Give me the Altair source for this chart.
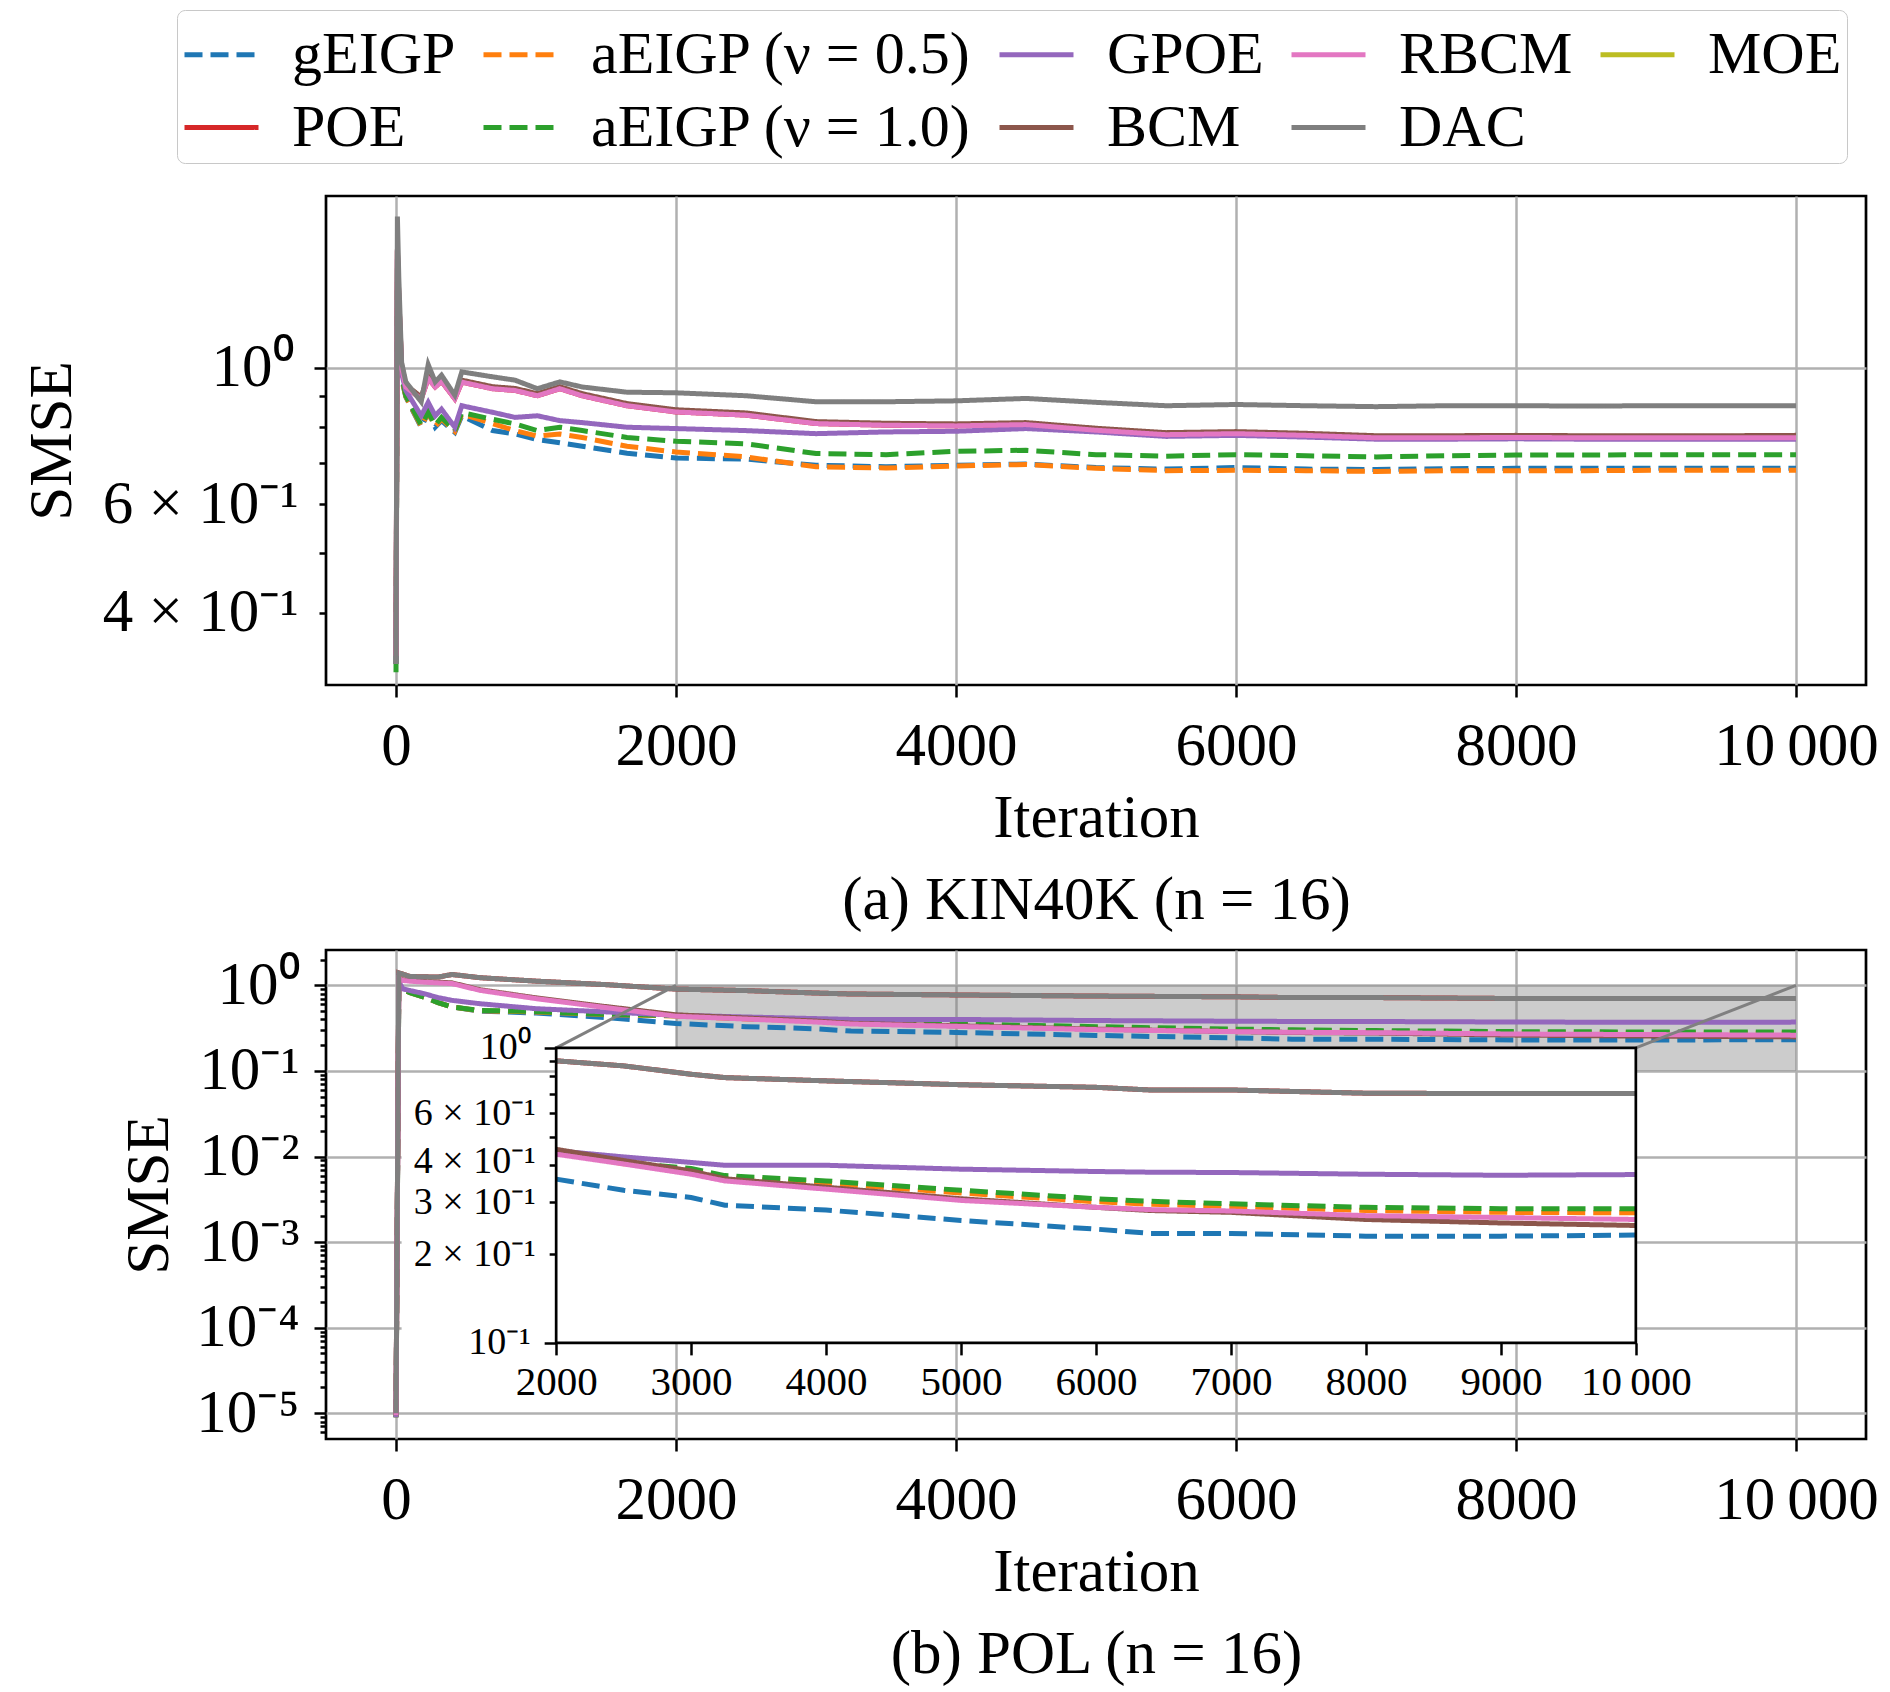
import math
import altair as alt
import pandas as pd

FONT = "Liberation Serif"

# ---------------- series definitions ----------------
# legend entries are laid out column by column (2 rows x 5 columns)
LEGEND_ORDER = ["gEIGP", "POE", "aEIGP (ν = 0.5)", "aEIGP (ν = 1.0)",
                "GPOE", "BCM", "RBCM", "DAC", "MOE"]
PLOT_ORDER = ["gEIGP", "POE", "aEIGP (ν = 0.5)", "aEIGP (ν = 1.0)",
              "GPOE", "BCM", "RBCM", "DAC", "MOE"]
COLORS = ["#1f77b4", "#d62728", "#ff7f0e", "#2ca02c", "#9467bd",
          "#8c564b", "#e377c2", "#7f7f7f", "#bcbd22"]
DASHED = ["gEIGP", "aEIGP (ν = 0.5)", "aEIGP (ν = 1.0)"]

# ---------------- (a) KIN40K ----------------
KIN_X = [0, 10, 20, 40, 70, 180, 230, 280, 325, 420, 470, 690, 850, 1010, 1170,
         1330, 1650, 2000, 2500, 3000, 3500, 4000, 4500, 5000, 5500, 6000, 6500,
         7000, 7500, 8000, 8500, 9000, 9500, 10000]
KIN_DAC = [0.33, 1.76, 1.40, 1.02, 0.948, 0.880, 1.011, 0.948, 0.972, 0.902, 0.984,
           0.966, 0.954, 0.924, 0.948, 0.930, 0.912, 0.910, 0.900, 0.880, 0.880,
           0.883, 0.891, 0.878, 0.867, 0.871, 0.867, 0.864, 0.867, 0.867, 0.866,
           0.867, 0.867, 0.867]
KIN_RBCM = [0.34, 1.55, 1.30, 1.00, 0.930, 0.889, 0.960, 0.930, 0.950, 0.890, 0.947,
            0.924, 0.918, 0.900, 0.924, 0.900, 0.867, 0.847, 0.837, 0.811, 0.806,
            0.804, 0.808, 0.791, 0.778, 0.781, 0.776, 0.769, 0.769, 0.770, 0.769,
            0.769, 0.769, 0.769]
KIN_BCM = [0.34, 1.56, 1.31, 1.01, 0.937, 0.896, 0.968, 0.937, 0.957, 0.897, 0.954,
           0.931, 0.925, 0.907, 0.931, 0.907, 0.874, 0.854, 0.844, 0.817, 0.812,
           0.810, 0.814, 0.797, 0.784, 0.787, 0.782, 0.775, 0.775, 0.776, 0.775,
           0.775, 0.775, 0.776]
KIN_POE = [0.34, 1.55, 1.30, 1.00, 0.930, 0.889, 0.960, 0.930, 0.950, 0.890, 0.947,
           0.924, 0.918, 0.900, 0.924, 0.900, 0.867, 0.847, 0.837, 0.811, 0.806,
           0.804, 0.808, 0.791, 0.778, 0.781, 0.776, 0.769, 0.769, 0.770, 0.769,
           0.769, 0.769, 0.769]
KIN_GPOE = [0.33, 1.50, 1.25, 0.98, 0.918, 0.835, 0.878, 0.835, 0.856, 0.800, 0.867,
            0.846, 0.830, 0.835, 0.820, 0.814, 0.800, 0.796, 0.790, 0.781, 0.786,
            0.788, 0.796, 0.786, 0.773, 0.776, 0.771, 0.765, 0.765, 0.766, 0.765,
            0.765, 0.765, 0.765]
KIN_AEIGP10 = [0.32, 1.45, 1.20, 0.97, 0.900, 0.806, 0.847, 0.806, 0.830, 0.790, 0.845,
               0.824, 0.810, 0.790, 0.800, 0.790, 0.770, 0.759, 0.752, 0.725, 0.722,
               0.731, 0.734, 0.722, 0.718, 0.722, 0.719, 0.716, 0.719, 0.721, 0.721,
               0.722, 0.722, 0.722]
KIN_AEIGP05 = [0.33, 1.40, 1.18, 0.96, 0.898, 0.802, 0.845, 0.802, 0.825, 0.788, 0.840,
               0.811, 0.790, 0.774, 0.780, 0.770, 0.745, 0.729, 0.716, 0.690, 0.687,
               0.692, 0.696, 0.686, 0.680, 0.681, 0.680, 0.678, 0.680, 0.680, 0.680,
               0.681, 0.681, 0.681]
KIN_GEIGP = [0.33, 1.40, 1.18, 0.96, 0.896, 0.800, 0.845, 0.800, 0.820, 0.785, 0.835,
             0.790, 0.780, 0.764, 0.755, 0.745, 0.726, 0.713, 0.710, 0.694, 0.690,
             0.694, 0.697, 0.688, 0.684, 0.688, 0.684, 0.683, 0.685, 0.686, 0.686,
             0.686, 0.686, 0.686]
KIN = {"gEIGP": KIN_GEIGP, "POE": KIN_POE, "aEIGP (ν = 0.5)": KIN_AEIGP05,
       "aEIGP (ν = 1.0)": KIN_AEIGP10, "GPOE": KIN_GPOE, "BCM": KIN_BCM,
       "RBCM": KIN_RBCM, "DAC": KIN_DAC}

# ---------------- (b) POL ----------------
POL_X = [0, 20, 50, 100, 200, 300, 400, 600, 1000, 1500, 2000, 2500, 3000, 3250,
         4000, 5000, 6000, 6400, 7000, 8000, 9000, 10000]
POL_DAC = [1.0e-5, 1.40, 1.35, 1.27, 1.26, 1.25, 1.34, 1.23, 1.12, 1.02, 0.904, 0.869,
           0.814, 0.793, 0.773, 0.750, 0.735, 0.720, 0.720, 0.702, 0.700, 0.700]
POL_POE = [1.0e-5, 1.40, 1.35, 1.27, 1.26, 1.25, 1.34, 1.23, 1.12, 1.02, 0.904, 0.869,
           0.814, 0.793, 0.773, 0.750, 0.735, 0.720, 0.720, 0.702, 0.700, 0.700]
POL_RBCM = [9.5e-6, 1.20, 1.14, 1.12, 1.09, 1.07, 1.05, 0.874, 0.700, 0.550, 0.436,
            0.404, 0.373, 0.354, 0.332, 0.304, 0.288, 0.283, 0.280, 0.270, 0.266, 0.262]
POL_BCM = [9.5e-6, 1.22, 1.16, 1.14, 1.11, 1.09, 1.07, 0.890, 0.715, 0.565, 0.453,
           0.415, 0.383, 0.360, 0.337, 0.308, 0.288, 0.281, 0.277, 0.262, 0.255, 0.250]
POL_GPOE = [9.0e-6, 1.10, 0.91, 0.87, 0.80, 0.72, 0.668, 0.61, 0.534, 0.49, 0.448,
            0.427, 0.409, 0.400, 0.400, 0.388, 0.381, 0.379, 0.378, 0.373, 0.370, 0.372]
POL_AEIGP10 = [9.0e-6, 1.00, 0.90, 0.82, 0.73, 0.63, 0.56, 0.51, 0.495, 0.46, 0.443,
               0.409, 0.390, 0.369, 0.354, 0.329, 0.308, 0.302, 0.296, 0.288, 0.285, 0.285]
POL_AEIGP05 = [9.0e-6, 1.00, 0.90, 0.82, 0.73, 0.63, 0.56, 0.505, 0.49, 0.455, 0.440,
               0.405, 0.385, 0.363, 0.348, 0.322, 0.301, 0.295, 0.290, 0.281, 0.277, 0.276]
POL_GEIGP = [9.0e-6, 1.00, 0.90, 0.82, 0.73, 0.63, 0.56, 0.50, 0.475, 0.42, 0.359,
             0.329, 0.311, 0.293, 0.282, 0.260, 0.243, 0.235, 0.235, 0.230, 0.230, 0.232]
POL = {"gEIGP": POL_GEIGP, "POE": POL_POE, "aEIGP (ν = 0.5)": POL_AEIGP05,
       "aEIGP (ν = 1.0)": POL_AEIGP10, "GPOE": POL_GPOE, "BCM": POL_BCM,
       "RBCM": POL_RBCM, "DAC": POL_DAC}

# ---------------- tick values / labels ----------------
X_TICKS = [0, 2000, 4000, 6000, 8000, 10000]
INSET_X_TICKS = [2000, 3000, 4000, 5000, 6000, 7000, 8000, 9000, 10000]
KIN_Y_TICKS = [0.3, 0.4, 0.5, 0.6, 0.7, 0.8, 0.9, 1.0]
POL_Y_TICKS = [k * 10.0 ** e for e in range(-6, 1) for k in range(1, 10)]
POL_Y_TICKS = [v for v in POL_Y_TICKS if 5.0e-6 <= v <= 2.59]
INSET_Y_TICKS = [0.1, 0.2, 0.3, 0.4, 0.5, 0.6, 0.7, 0.8, 0.9, 1.0]

rows = []
for panel, xs, table in (("a", KIN_X, KIN), ("b", POL_X, POL)):
    for s, vals in table.items():
        for x, v in zip(xs, vals):
            rows.append({"panel": panel, "series": s, "x": x, "y": v})
df = pd.DataFrame(rows)

# ---------------- geometry ----------------
W, H = 1540, 489
X_DOMAIN = [-500, 10500]
KIN_Y_DOMAIN = [0.305, 1.90]
POL_Y_DOMAIN = [5.0e-6, 2.59]
INSET_X_DOMAIN = [2000, 10000]
INSET_Y_DOMAIN = [0.1, 1.0]
INSET_AT_X = [1144, 8856]        # where the inset sits, in panel (b) data coords
INSET_AT_Y = [6.64e-5, 0.186]


def px(v):
    return (v - X_DOMAIN[0]) / (X_DOMAIN[1] - X_DOMAIN[0]) * W


def py(v):
    lo, hi = math.log10(POL_Y_DOMAIN[0]), math.log10(POL_Y_DOMAIN[1])
    return (hi - math.log10(v)) / (hi - lo) * H


INSET_X_RANGE = [px(INSET_AT_X[0]), px(INSET_AT_X[1])]
INSET_Y_RANGE = [py(INSET_AT_Y[0]), py(INSET_AT_Y[1])]

shade_df = pd.DataFrame({"x": [2000], "x2": [10000], "y": [0.1], "y2": [1.0]})
conn_df = pd.DataFrame({"x": [2000, 10000], "y": [1.0, 1.0],
                        "x2": [INSET_AT_X[0], INSET_AT_X[1]],
                        "y2": [INSET_AT_Y[1], INSET_AT_Y[1]]})
labelbox_df = pd.DataFrame({"x": [40], "x2": [INSET_AT_X[0]], "y": [6.1e-5], "y2": [0.072]})
inset_df = pd.DataFrame({"x": [2000], "x2": [10000], "y": [0.1], "y2": [1.0]})

# ---------------- scales / axes ----------------
CSCALE = alt.Scale(domain=LEGEND_ORDER, range=COLORS)
DSCALE = alt.Scale(domain=LEGEND_ORDER,
                   range=[[18, 8] if s in DASHED else [1, 0] for s in LEGEND_ORDER])

LEG = alt.Legend(title=None, orient="none", legendX=-149, legendY=-186, columns=5,
                 symbolType="stroke", symbolSize=5476, symbolStrokeWidth=5,
                 labelFont=FONT, labelFontSize=60, labelColor="black", labelOffset=31,
                 labelLimit=0, columnPadding=17, rowPadding=3, padding=5,
                 strokeColor="#c8c8c8", fillColor="white", cornerRadius=8)

X_LABELS = "datum.value == 10000 ? '10\u2009000' : format(datum.value, 'd')"


def x_axis(caption):
    return alt.Axis(values=X_TICKS, labelExpr=X_LABELS, orient="bottom",
                    title=["Iteration", caption], titleFontSize=61, titleLineHeight=82,
                    titlePadding=12, labelFontSize=61, labelPadding=19, tickSize=12,
                    grid=True, labelFlush=False, labelOverlap=False, labelLimit=0)


KIN_Y_AXIS = alt.Axis(
    values=KIN_Y_TICKS, orient="left", title="SMSE", titleFontSize=61, titlePadding=43,
    labelFontSize=61, labelPadding=21, labelOverlap=False, labelLimit=0,
    labelExpr="datum.value == 1 ? '10⁰' : abs(datum.value - 0.6) < 1e-9 ? '6 × 10⁻¹' : "
              "abs(datum.value - 0.4) < 1e-9 ? '4 × 10⁻¹' : ''",
    tickSize={"condition": {"test": "datum.value == 1", "value": 12}, "value": 7},
    grid=True,
    gridOpacity={"condition": {"test": "datum.value == 1", "value": 1}, "value": 0})

MAJOR = "abs(log(datum.value) / LN10 - round(log(datum.value) / LN10)) < 1e-6"
POL_Y_AXIS = alt.Axis(
    values=POL_Y_TICKS, orient="left", title="SMSE", titleFontSize=61, titlePadding=15,
    labelFontSize=61, labelPadding=15, labelOverlap=False, labelLimit=0,
    labelExpr="(" + MAJOR + ") ? '10' + ['⁰','⁻¹','⁻²','⁻³','⁻⁴','⁻⁵','⁻⁶']"
              "[abs(round(log(datum.value) / LN10))] : ''",
    tickSize={"condition": {"test": MAJOR, "value": 12}, "value": 6},
    grid=True,
    gridOpacity={"condition": {"test": MAJOR, "value": 1}, "value": 0})

INSET_MAJOR = "datum.value == 1 || abs(datum.value - 0.1) < 1e-9"
INSET_Y_AXIS = alt.Axis(
    values=INSET_Y_TICKS, orient="left", title=None, offset=-INSET_X_RANGE[0],
    labelFontSize=38, labelPadding=14, labelOverlap=False, labelLimit=0, grid=False,
    zindex=2,
    labelOffset={"condition": {"test": "abs(datum.value - 0.4) < 1e-9", "value": -4},
                 "value": 0},
    labelExpr="datum.value == 1 ? '10⁰' : abs(datum.value - 0.1) < 1e-9 ? '10⁻¹' : "
              "abs(datum.value - 0.6) < 1e-9 ? '6 × 10⁻¹' : "
              "abs(datum.value - 0.4) < 1e-9 ? '4 × 10⁻¹' : "
              "abs(datum.value - 0.3) < 1e-9 ? '3 × 10⁻¹' : "
              "abs(datum.value - 0.2) < 1e-9 ? '2 × 10⁻¹' : ''",
    tickSize={"condition": {"test": INSET_MAJOR, "value": 12}, "value": 7})
INSET_X_AXIS = alt.Axis(
    values=INSET_X_TICKS, orient="bottom", title=None, offset=-(H - INSET_Y_RANGE[0]),
    labelExpr=X_LABELS, labelFontSize=41, labelPadding=8, tickSize=12, grid=False,
    labelFlush=False, labelOverlap=False, labelLimit=0, zindex=2)

X_A = alt.X("x:Q", scale=alt.Scale(domain=X_DOMAIN, nice=False, zero=False),
            axis=x_axis("(a) KIN40K (n = 16)"))
Y_A = alt.Y("y:Q", scale=alt.Scale(type="log", domain=KIN_Y_DOMAIN, nice=False),
            axis=KIN_Y_AXIS)
X_B = alt.X("x:Q", scale=alt.Scale(domain=X_DOMAIN, nice=False, zero=False),
            axis=x_axis("(b) POL (n = 16)"))
Y_B = alt.Y("y:Q", scale=alt.Scale(type="log", domain=POL_Y_DOMAIN, nice=False),
            axis=POL_Y_AXIS)
X_IN = alt.X("x:Q", scale=alt.Scale(domain=INSET_X_DOMAIN, range=INSET_X_RANGE,
                                    nice=False, zero=False), axis=INSET_X_AXIS)
Y_IN = alt.Y("y:Q", scale=alt.Scale(type="log", domain=INSET_Y_DOMAIN,
                                    range=INSET_Y_RANGE, nice=False), axis=INSET_Y_AXIS)


def line_layers(panel, X, Y, legend, inset=False):
    out = []
    for s in PLOT_ORDER:
        table = KIN if panel == "a" else POL
        if s not in table:
            continue
        c = alt.Chart(df).transform_filter(alt.datum.panel == panel)
        c = c.transform_filter(alt.datum.series == s)
        if inset:
            c = c.transform_filter(alt.datum.x >= INSET_X_DOMAIN[0])
        c = c.mark_line(strokeWidth=5).encode(
            x=X, y=Y,
            color=alt.Color("series:N", scale=CSCALE, legend=legend),
            strokeDash=alt.StrokeDash("series:N", scale=DSCALE, legend=legend))
        out.append(c)
    return out


# ---------------- panel (a) ----------------
panel_a = alt.layer(*line_layers("a", X_A, Y_A, LEG)).properties(width=W, height=H)

# ---------------- panel (b) ----------------
shade = alt.Chart(shade_df).mark_rect(color="gray", opacity=0.4).encode(
    x=X_B, x2="x2:Q", y=Y_B, y2="y2:Q")
connectors = alt.Chart(conn_df).mark_rule(color="#808080", strokeWidth=3).encode(
    x=X_B, x2="x2:Q", y=Y_B, y2="y2:Q")
label_box = alt.Chart(labelbox_df).mark_rect(color="white").encode(
    x=X_B, x2="x2:Q", y=Y_B, y2="y2:Q")
main_b = alt.layer(shade, *line_layers("b", X_B, Y_B, None), connectors, label_box)

inset_bg = alt.Chart(inset_df).mark_rect(color="white").encode(
    x=X_IN, x2="x2:Q", y=Y_IN, y2="y2:Q")
inset_frame = alt.Chart(inset_df).mark_rect(fillOpacity=0, stroke="black",
                                            strokeWidth=2.7).encode(
    x=X_IN, x2="x2:Q", y=Y_IN, y2="y2:Q")
inset = alt.layer(inset_bg, *line_layers("b", X_IN, Y_IN, None, inset=True), inset_frame)

panel_b = alt.layer(main_b, inset).resolve_scale(
    x="independent", y="independent").properties(width=W, height=H)

chart = alt.vconcat(panel_a, panel_b, spacing=-5).resolve_scale(
    color="independent", strokeDash="independent"
).properties(
    padding={"left": 11, "top": 0, "right": 0, "bottom": 0}
).configure(
    background="white", font=FONT
).configure_view(
    stroke="black", strokeWidth=2.7
).configure_axis(
    labelFont=FONT, titleFont=FONT, labelColor="black", titleColor="black",
    tickColor="black", tickWidth=2.5, domain=False, gridColor="#b0b0b0",
    gridWidth=2.5, titleFontWeight="normal"
)

chart.save("out.html", embed_options={"renderer": "svg", "actions": False})
